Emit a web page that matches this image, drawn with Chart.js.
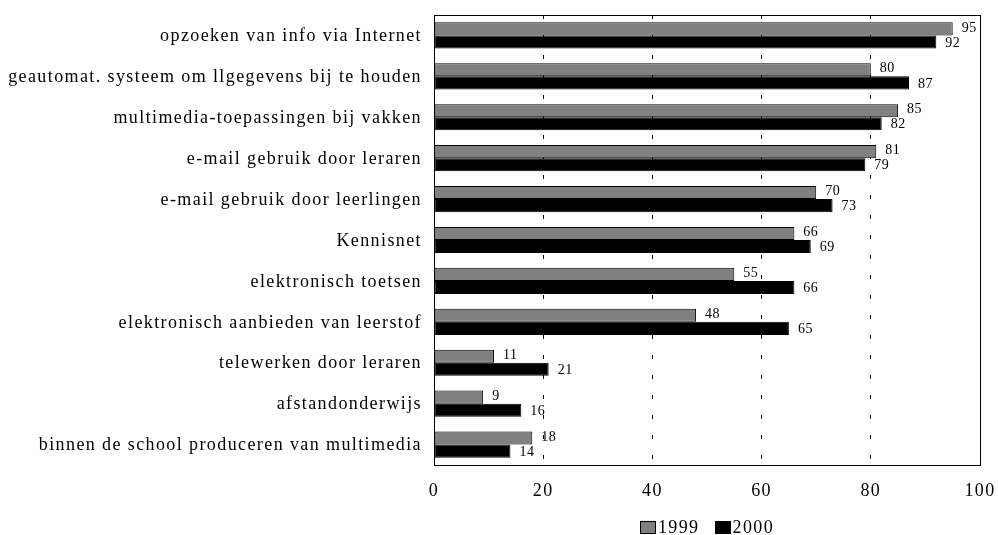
<!DOCTYPE html>
<html>
<head>
<meta charset="utf-8">
<script src="https://cdn.jsdelivr.net/npm/chart.js@4/dist/chart.umd.min.js"></script>
<style>
  html, body { margin: 0; padding: 0; background: #fff; }
  #wrap { width: 998px; height: 535px; }
</style>
</head>
<body>
<div id="wrap"><canvas id="c" width="998" height="535"></canvas></div>
<script>
// ICT-toepassingen op scholen, percentages 1999 en 2000
const categories = [
  'opzoeken van info via Internet',
  'geautomat. systeem om llgegevens bij te houden',
  'multimedia-toepassingen bij vakken',
  'e-mail gebruik door leraren',
  'e-mail gebruik door leerlingen',
  'Kennisnet',
  'elektronisch toetsen',
  'elektronisch aanbieden van leerstof',
  'telewerken door leraren',
  'afstandonderwijs',
  'binnen de school produceren van multimedia'
];
const values1999 = [95, 80, 85, 81, 70, 66, 55, 48, 11, 9, 18];
const values2000 = [92, 87, 82, 79, 73, 69, 66, 65, 21, 16, 14];
const seriesNames = ['1999', '2000'];
const xTicks = [0, 20, 40, 60, 80, 100];

const SERIF = "'Liberation Serif', 'Times New Roman', serif";
const SPACING = '1.4px';

// loose letter spacing for every text drawn on the canvas
const looseText = {
  id: 'looseText',
  beforeLayout(chart) { chart.ctx.letterSpacing = SPACING; },
  beforeDraw(chart) { chart.ctx.letterSpacing = SPACING; }
};

// value labels at the end of every bar
const valueLabels = {
  id: 'valueLabels',
  afterDatasetsDraw(chart) {
    const ctx = chart.ctx;
    ctx.save();
    ctx.letterSpacing = '0.5px';
    ctx.font = '14px ' + SERIF;
    ctx.fillStyle = '#000';
    ctx.textAlign = 'left';
    ctx.textBaseline = 'middle';
    chart.data.datasets.forEach((ds, di) => {
      const meta = chart.getDatasetMeta(di);
      meta.data.forEach((bar, i) => {
        ctx.fillText(String(ds.data[i]), bar.x + 9, bar.y + (di === 0 ? -1 : 1));
      });
    });
    ctx.restore();
  }
};

// solid frame around the plot area
const plotFrame = {
  id: 'plotFrame',
  afterDatasetsDraw(chart) {
    const a = chart.chartArea;
    const ctx = chart.ctx;
    ctx.save();
    ctx.strokeStyle = '#000';
    ctx.lineWidth = 1;
    ctx.strokeRect(Math.round(a.left) + 0.5, Math.round(a.top) + 0.5,
                   Math.round(a.right - a.left), Math.round(a.bottom - a.top));
    ctx.restore();
  }
};

// compact legend centred under the plot area
const bottomLegend = {
  id: 'bottomLegend',
  afterDraw(chart) {
    const ctx = chart.ctx;
    const a = chart.chartArea;
    const boxW = 16, boxH = 13, gapText = 2, gapItem = 15;
    ctx.save();
    ctx.font = '18px ' + SERIF;
    ctx.textBaseline = 'middle';
    ctx.textAlign = 'left';
    const items = chart.data.datasets.map(ds => ({
      label: ds.label, color: ds.backgroundColor,
      w: boxW + gapText + ctx.measureText(ds.label).width
    }));
    const total = items.reduce((s, it) => s + it.w, 0) + gapItem * (items.length - 1);
    let x = (a.left + a.right) / 2 - total / 2;
    const cy = 527;
    items.forEach(it => {
      ctx.fillStyle = it.color;
      ctx.fillRect(Math.round(x), Math.round(cy - boxH / 2), boxW, boxH);
      ctx.strokeStyle = '#000';
      ctx.lineWidth = 1;
      ctx.strokeRect(Math.round(x) + 0.5, Math.round(cy - boxH / 2) + 0.5, boxW - 1, boxH - 1);
      ctx.fillStyle = '#000';
      ctx.fillText(it.label, x + boxW + gapText, cy + 1);
      x += it.w + gapItem;
    });
    ctx.restore();
  }
};

new Chart(document.getElementById('c'), {
  type: 'bar',
  data: {
    labels: categories,
    datasets: [
      { label: seriesNames[0], data: values1999, backgroundColor: '#808080',
        borderColor: '#000', borderWidth: 1, borderSkipped: false },
      { label: seriesNames[1], data: values2000, backgroundColor: '#000000',
        borderColor: '#000', borderWidth: 1, borderSkipped: false }
    ]
  },
  options: {
    indexAxis: 'y',
    responsive: false,
    animation: false,
    devicePixelRatio: 1,
    layout: { padding: { top: 15, right: 18, bottom: 0, left: 0 } },
    datasets: { bar: { categoryPercentage: 0.64, barPercentage: 1.0 } },
    plugins: {
      legend: { display: false },
      tooltip: { enabled: false }
    },
    scales: {
      x: {
        min: 0, max: 100,
        afterBuildTicks(scale) { scale.ticks = xTicks.map(v => ({ value: v })); },
        afterFit(scale) {
          scale.height = 70;
          scale.paddingLeft = 0;
          scale.paddingRight = 0;
        },
        grid: {
          color: '#000', lineWidth: 1, drawTicks: false
        },
        border: { display: true, color: '#000', dash: [4, 16] },
        ticks: {
          padding: 15, color: '#000',
          font: { family: SERIF, size: 18 }
        }
      },
      y: {
        afterFit(scale) {
          scale.width = 434;
          scale.paddingTop = 0;
          scale.paddingBottom = 0;
        },
        grid: { display: false, drawTicks: false },
        border: { display: true, color: '#000' },
        ticks: {
          padding: 12, labelOffset: 1, color: '#000',
          font: { family: SERIF, size: 18 }
        }
      }
    }
  },
  plugins: [looseText, valueLabels, plotFrame, bottomLegend]
});
</script>
</body>
</html>
